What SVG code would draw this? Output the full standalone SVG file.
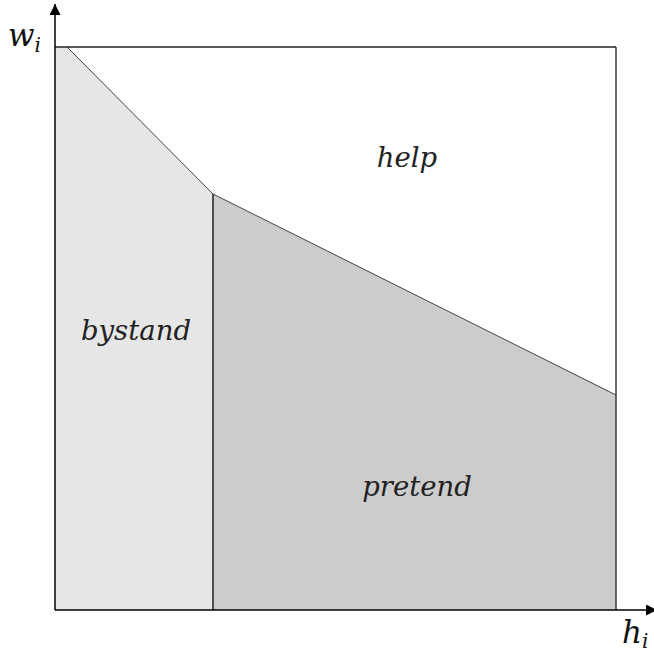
<svg xmlns="http://www.w3.org/2000/svg" width="654" height="656" viewBox="0 0 654 656">
<style>
.lbl{font-family:"DejaVu Serif","Liberation Serif",serif;font-style:italic;font-size:27.5px;fill:#222}
.ax{font-family:"DejaVu Serif","Liberation Serif",serif;font-style:italic;fill:#111}
</style>
<defs>
<marker id="ah" viewBox="0 0 10 10" refX="10" refY="5" markerWidth="11" markerHeight="11" markerUnits="userSpaceOnUse" orient="auto">
<path d="M0,0 L10,5 L0,10 Z" fill="#000"/>
</marker>
</defs>
<rect width="654" height="656" fill="#fff"/>
<g id="bystand">
<polygon points="55,47 67,47 213,194 213,610 55,610" fill="#e6e6e6"/>
<text class="lbl" x="136" y="340" text-anchor="middle">bystand</text>
</g>
<g id="pretend">
<polygon points="213,194 616,395 616,610 213,610" fill="#cccccc"/>
<text class="lbl" x="417" y="496" text-anchor="middle">pretend</text>
</g>
<g id="help">
<text class="lbl" x="407" y="167" text-anchor="middle">help</text>
</g>
<g id="connectors" fill="none">
<line x1="67" y1="47" x2="213" y2="194" stroke="#444" stroke-width="1"/>
<line x1="213" y1="194" x2="616" y2="395" stroke="#444" stroke-width="1"/>
<line x1="213" y1="194" x2="213" y2="610" stroke="#222" stroke-width="1.5"/>
<line x1="55" y1="47" x2="616" y2="47" stroke="#222" stroke-width="1.3"/>
<line x1="616" y1="47" x2="616" y2="610" stroke="#222" stroke-width="1.3"/>
<line x1="55" y1="610" x2="55" y2="4" stroke="#000" stroke-width="1.5" marker-end="url(#ah)"/>
<line x1="55" y1="610" x2="657" y2="610" stroke="#000" stroke-width="1.5" marker-end="url(#ah)"/>
</g>
<g id="axis-labels">
<text class="ax" x="8" y="46" font-size="31">w<tspan font-size="20" dy="6">i</tspan></text>
<text class="ax" x="622" y="643" font-size="31">h<tspan font-size="20" dy="5">i</tspan></text>
</g>
</svg>
